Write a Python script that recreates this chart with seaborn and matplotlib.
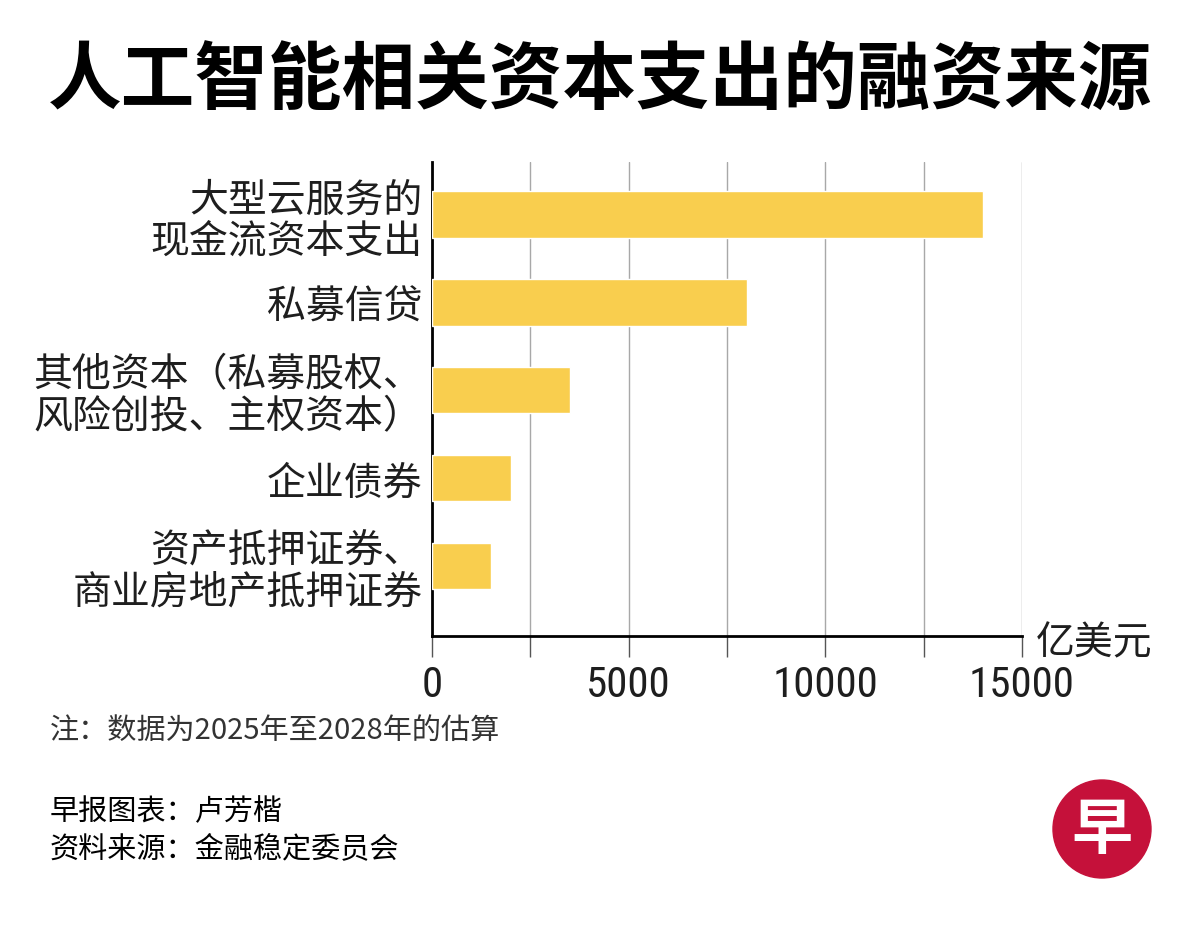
import matplotlib
matplotlib.use('Agg')
import matplotlib.pyplot as plt
from matplotlib import font_manager
from matplotlib.patches import Circle
from matplotlib.ticker import MultipleLocator
import pandas as pd
import seaborn as sns

# data (亿美元, 2025-2028 estimate)
categories = [
    '大型云服务的\n现金流资本支出',
    '私募信贷',
    '其他资本（私募股权、\n风险创投、主权资本）',
    '企业债券',
    '资产抵押证券、\n商业房地产抵押证券',
]
values = [14000, 8000, 3500, 2000, 1500]
x_ticks = [0, 5000, 10000, 15000]

title = '人工智能相关资本支出的融资来源'
unit = '亿美元'
note = '注：数据为2025年至2028年的估算'
credit = '早报图表：卢芳楷'
source = '资料来源：金融稳定委员会'

bar_color = '#F9CE4E'
grid_color = '#A8A8A8'
text_color = '#1E1E1E'

sns.set_theme(style='white')
plt.rcParams['font.family'] = ['Noto Sans CJK SC', 'DejaVu Sans']

# narrow face for the numbers if one is around
installed = {f.name for f in font_manager.fontManager.ttflist}
num_font = 'Liberation Sans'
num_size = 27
for cand in ['Liberation Sans Narrow', 'Roboto Condensed', 'Open Sans Condensed']:
    if cand in installed:
        num_font = cand
        num_size = 31
        break

df = pd.DataFrame({'category': categories, 'value': values})

fig = plt.figure(figsize=(12, 9.28), dpi=100)
ax = fig.add_axes([432 / 1200, 1 - 637 / 928, 590 / 1200, (637 - 163) / 928])

sns.barplot(data=df, x='value', y='category', color=bar_color, width=0.53,
            saturation=1, orient='h', ax=ax, zorder=3)

ax.set_xlim(0, 15000)
ax.set_ylim(4.8, -0.6)
ax.set_xlabel('')
ax.set_ylabel('')

ax.xaxis.set_major_locator(MultipleLocator(5000))
ax.xaxis.set_minor_locator(MultipleLocator(2500))
ax.set_xticks(x_ticks)
ax.set_xticklabels([str(t) for t in x_ticks], fontsize=num_size, color=text_color,
                   family=[num_font, 'DejaVu Sans'])
ax.tick_params(axis='x', which='both', direction='out', length=15, width=1,
               color='#555555', bottom=True, pad=5)
ax.grid(axis='x', which='both', color=grid_color, linewidth=1, zorder=0)
ax.grid(axis='y', visible=False)

ax.tick_params(axis='y', length=0, pad=7)
for lbl in ax.get_yticklabels():
    lbl.set_fontsize(28)
    lbl.set_color(text_color)
    lbl.set_linespacing(1.04)
    lbl.set_horizontalalignment('right')

for side in ['top', 'right']:
    ax.spines[side].set_visible(False)
ax.spines['left'].set_color('black')
ax.spines['left'].set_linewidth(2)
ax.spines['bottom'].set_color('black')
ax.spines['bottom'].set_linewidth(2)

ax.text(1.024, -0.014, unit, transform=ax.transAxes, fontsize=28, color=text_color,
        ha='left', va='center')

fig.text(0.5, 1 - 82 / 928, title, fontsize=53, fontweight='heavy', color='black',
         ha='center', va='center')
fig.text(50 / 1200, 1 - 731 / 928, note, fontsize=21, color='#333333',
         ha='left', va='center')
fig.text(50 / 1200, 1 - 812 / 928, credit, fontsize=21, color='black',
         fontweight='medium', ha='left', va='center')
fig.text(50 / 1200, 1 - 849 / 928, source, fontsize=21, color='black',
         fontweight='medium', ha='left', va='center')

# round red logo
logo = fig.add_axes([1052 / 1200, 1 - 880 / 928, 100 / 1200, 100 / 928])
logo.set_xlim(-1, 1)
logo.set_ylim(-1, 1)
logo.set_aspect('equal')
logo.axis('off')
logo.add_patch(Circle((0, 0), 0.98, color='#C5113A'))
logo.text(0, -0.03, '早', fontsize=44, fontweight='bold', color='white',
          ha='center', va='center')

fig.savefig('out.png', dpi=100, facecolor='white')
